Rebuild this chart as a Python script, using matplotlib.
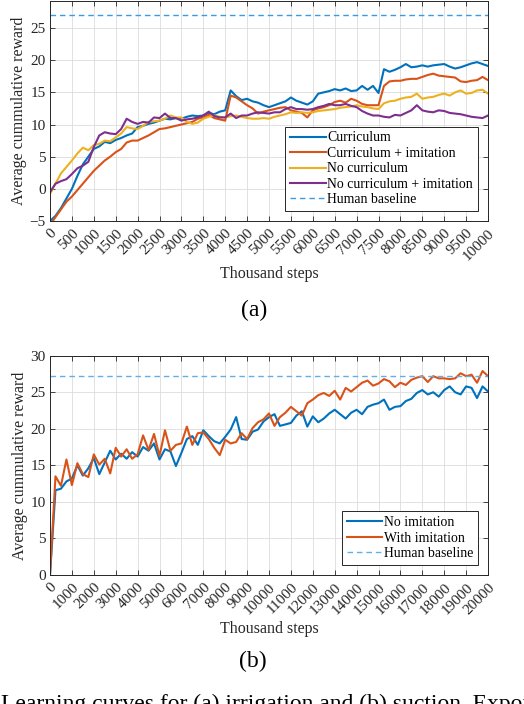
import numpy as np
import matplotlib
matplotlib.use('Agg')
import matplotlib.pyplot as plt

plt.rcParams['font.family'] = ['Liberation Serif', 'DejaVu Serif']

# (a) irrigation, values every 125 thousand steps
steps_a = np.linspace(0, 10000, 81)
curriculum = [-5.0, -4.2, -3.0, -1.5, 0.0, 2.0, 3.8, 5.0, 6.2,
              6.6, 7.3, 7.1, 7.6, 7.9, 8.3, 8.6, 9.6, 9.8,
              10.1, 10.3, 10.6, 10.9, 10.8, 11.0, 10.9, 11.2, 11.4,
              11.3, 11.4, 11.8, 11.6, 12.0, 12.2, 15.3, 14.4, 13.8,
              14.0, 13.6, 13.4, 13.0, 12.7, 13.0, 13.3, 13.6, 14.2,
              13.7, 13.4, 13.1, 13.6, 14.8, 15.0, 15.2, 15.5, 15.3,
              15.6, 15.2, 15.3, 16.0, 15.4, 16.0, 14.9, 18.6, 18.2,
              18.5, 18.9, 19.4, 18.9, 19.0, 19.2, 19.0, 19.2, 19.3,
              19.4, 19.0, 18.7, 18.9, 19.2, 19.5, 19.7, 19.4, 19.1]
curriculum_imit = [-5.6, -4.4, -3.2, -2.0, -1.2, -0.2, 0.8, 1.8, 2.8,
                   3.6, 4.4, 5.0, 5.7, 6.2, 7.2, 7.5, 7.5, 7.9,
                   8.3, 8.8, 9.3, 9.4, 9.6, 9.8, 10.0, 10.2, 10.4,
                   10.9, 11.1, 11.5, 11.0, 10.8, 10.6, 14.5, 14.2, 13.6,
                   13.0, 12.5, 11.7, 12.0, 12.2, 12.4, 12.6, 12.7, 12.2,
                   12.0, 11.8, 11.1, 12.2, 12.5, 12.7, 13.0, 13.5, 13.7,
                   13.4, 14.0, 13.7, 13.2, 13.0, 13.0, 13.0, 16.0, 16.7,
                   16.8, 16.8, 17.0, 17.1, 17.1, 17.4, 17.7, 17.9, 17.6,
                   17.5, 17.4, 17.3, 16.7, 16.6, 16.8, 16.9, 17.4, 16.9]
no_curriculum = [-0.8, 0.8, 2.4, 3.4, 4.4, 5.5, 6.4, 6.0, 6.8,
                 7.0, 7.5, 7.4, 8.0, 8.6, 9.6, 9.4, 9.3, 9.8,
                 10.4, 10.5, 10.6, 10.9, 11.4, 11.1, 11.1, 10.4, 10.1,
                 10.3, 10.9, 11.2, 11.4, 11.2, 11.1, 11.3, 11.4, 11.2,
                 11.0, 10.9, 10.9, 11.0, 10.9, 11.2, 11.4, 11.6, 11.9,
                 11.8, 11.9, 11.8, 11.9, 12.1, 12.2, 12.3, 12.4, 12.6,
                 12.7, 12.8, 13.0, 12.8, 12.7, 12.5, 12.4, 13.3, 13.6,
                 13.7, 14.0, 14.2, 14.3, 14.8, 14.0, 14.2, 14.3, 14.6,
                 14.8, 14.5, 15.0, 15.3, 14.8, 14.9, 15.3, 15.4, 14.8]
no_curriculum_imit = [-0.5, 0.8, 1.2, 1.5, 2.3, 3.2, 3.6, 4.2, 6.5,
                      8.3, 8.8, 8.6, 8.5, 9.3, 10.9, 10.4, 10.1, 10.4,
                      10.3, 11.1, 11.0, 11.7, 11.0, 11.0, 10.6, 10.8, 10.9,
                      11.1, 11.4, 12.0, 11.3, 11.1, 11.1, 11.7, 11.0, 11.4,
                      11.4, 11.7, 11.9, 11.8, 11.7, 11.9, 11.9, 12.4, 12.7,
                      12.4, 12.4, 12.3, 12.4, 12.7, 12.9, 13.2, 13.0, 13.0,
                      13.2, 12.9, 12.7, 12.1, 11.7, 11.4, 11.4, 11.2, 11.1,
                      11.5, 11.4, 11.8, 12.2, 13.0, 12.2, 12.0, 11.9, 12.2,
                      12.1, 11.8, 11.7, 11.6, 11.4, 11.2, 11.1, 11.0, 11.4]
human_a = 27.0

# (b) suction, values every 250 thousand steps
steps_b = np.linspace(0, 20000, 81)
no_imitation = [0.0, 11.6, 11.8, 12.8, 13.2, 15.0, 13.6, 14.6, 16.0,
                13.8, 15.4, 17.0, 15.8, 16.6, 15.9, 16.8, 16.2, 17.5,
                17.0, 18.0, 15.8, 17.2, 16.9, 14.9, 16.7, 18.6, 19.0,
                17.8, 19.8, 19.0, 18.3, 18.0, 18.9, 19.9, 21.6, 18.6,
                18.5, 19.6, 19.9, 21.0, 21.6, 22.0, 20.4, 20.6, 20.8,
                21.8, 22.4, 20.3, 21.7, 20.9, 21.4, 22.1, 22.6, 22.0,
                21.4, 22.2, 22.6, 22.0, 23.0, 23.3, 23.5, 24.0, 22.6,
                23.0, 23.1, 23.8, 24.1, 24.9, 25.3, 24.7, 25.0, 24.4,
                25.3, 25.8, 25.0, 24.7, 25.8, 25.6, 24.2, 25.8, 25.1]
with_imitation = [0.0, 13.5, 12.2, 15.8, 12.3, 15.3, 13.8, 13.4, 16.5,
                  15.1, 15.9, 13.9, 17.4, 16.2, 17.2, 15.9, 16.5, 19.1,
                  17.1, 19.3, 16.3, 19.8, 17.0, 17.8, 18.0, 20.3, 17.8,
                  19.4, 19.5, 18.6, 17.4, 16.4, 18.5, 18.0, 18.2, 19.4,
                  18.6, 20.1, 20.9, 21.3, 22.1, 20.4, 21.6, 22.2, 23.0,
                  22.4, 21.8, 23.5, 24.0, 24.6, 24.9, 24.5, 25.2, 24.0,
                  25.6, 25.1, 25.7, 26.3, 26.6, 25.9, 26.2, 26.8, 26.5,
                  25.7, 26.3, 26.0, 26.7, 27.0, 27.2, 26.4, 27.2, 26.9,
                  26.9, 26.8, 26.9, 27.6, 27.2, 27.4, 26.3, 27.9, 27.2]
human_b = 27.2

BLUE, ORANGE, YELLOW, PURPLE = '#0072BD', '#D95319', '#EDB120', '#7E2F8E'
EDGE = '#262626'

fig = plt.figure(figsize=(5.24, 7.04), dpi=100)
W, H = 524.0, 704.0


def style(ax, xmax, xstep, ylim, yticks):
    ax.set_xlim(0, xmax)
    ax.set_ylim(*ylim)
    ax.set_xticks(np.arange(0, xmax + 1, xstep))
    ax.set_xticklabels([str(int(v)) for v in np.arange(0, xmax + 1, xstep)],
                       rotation=45, ha='right', rotation_mode='anchor')
    ax.set_yticks(yticks)
    ax.tick_params(direction='in', length=3.5, width=0.6, colors=EDGE,
                   labelsize=11, top=True, right=True, pad=3)
    ax.tick_params(axis='x', pad=4)
    for s in ax.spines.values():
        s.set_color(EDGE)
        s.set_linewidth(0.7)
    ax.grid(True, color='#dcdcdc', linewidth=0.6)
    ax.set_axisbelow(True)
    ax.set_ylabel('Average cummulative reward', fontsize=11.5, color=EDGE, labelpad=2)
    ax.set_xlabel('Thousand steps', fontsize=11.5, color=EDGE)


def legend(ax, y0):
    leg = ax.legend(loc='lower right', bbox_to_anchor=(0.977, y0), borderaxespad=0,
                    fontsize=9.9, handlelength=2.6, handletextpad=0.1, labelspacing=0.18,
                    borderpad=0.35, fancybox=False, framealpha=1, edgecolor=EDGE)
    leg.get_frame().set_linewidth(0.7)


# panel (a)
ax1 = fig.add_axes([50 / W, 1 - 221 / H, 438 / W, 220 / H])
ax1.plot(steps_a, curriculum, color=BLUE, lw=1.5, label='Curriculum')
ax1.plot(steps_a, curriculum_imit, color=ORANGE, lw=1.5, label='Curriculum + imitation')
ax1.plot(steps_a, no_curriculum, color=YELLOW, lw=1.5, label='No curriculum')
ax1.plot(steps_a, no_curriculum_imit, color=PURPLE, lw=1.5, label='No curriculum + imitation')
ax1.axhline(human_a, color='#3D9AE0', lw=1.0, ls=(0, (4, 2.8)), label='Human baseline')
style(ax1, 10000, 500, (-5, 29.2), np.arange(-5, 26, 5))
ax1.xaxis.set_label_coords(0.5, -0.205)
legend(ax1, 0.045)

# panel (b)
ax2 = fig.add_axes([50 / W, 1 - 575 / H, 438 / W, 219.3 / H])
ax2.plot(steps_b, no_imitation, color=BLUE, lw=1.5, label='No imitation')
ax2.plot(steps_b, with_imitation, color=ORANGE, lw=1.5, label='With imitation')
ax2.axhline(human_b, color='#64AEE2', lw=1.0, ls=(0, (4, 2.8)), label='Human baseline')
style(ax2, 20000, 1000, (0, 30), np.arange(0, 31, 5))
ax2.xaxis.set_label_coords(0.5, -0.21)
legend(ax2, 0.046)

fig.text(254 / W, 1 - 310 / H, '(a)', ha='center', va='center', fontsize=17)
fig.text(253 / W, 1 - 661 / H, '(b)', ha='center', va='center', fontsize=17)
fig.text(1 / W, 1 - 694 / H, 'Learning curves for (a) irrigation and (b) suction. Exponential',
         ha='left', va='top', fontsize=17)

fig.savefig('out.png', dpi=100)
